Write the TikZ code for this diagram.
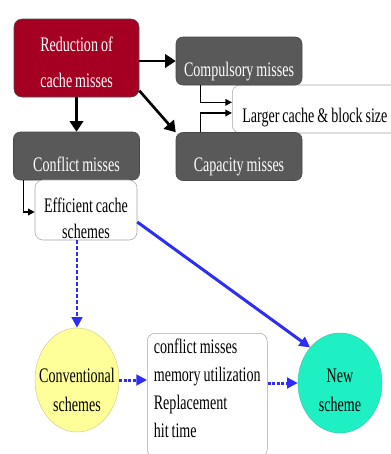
\documentclass[tikz,border=0pt]{standalone}
\usepackage{fontspec}
\setmainfont{Liberation Serif}[FakeStretch=0.68,WordSpace=0.85]
\usepackage{xcolor}
\usepackage{tikz}
\usetikzlibrary{arrows.meta,positioning,shapes.geometric}
\definecolor{darkred}{RGB}{165,0,33}
\definecolor{boxgray}{RGB}{89,89,89}
\definecolor{lineblue}{RGB}{45,45,245}
\definecolor{paleyellow}{RGB}{255,255,153}
\definecolor{aqua}{RGB}{30,240,195}
\newcommand{\padtop}[1]{\rule{0pt}{#1}}
\tikzset{
  redbox/.style={rectangle,rounded corners=6pt,draw=gray!60!black,fill=darkred,text=white,
                 minimum width=93.75pt,minimum height=58.5pt,inner sep=0pt,align=center,
                 font=\fontsize{15.5}{27}\selectfont},
  graybox/.style={rectangle,rounded corners=5pt,draw=boxgray!80!black,fill=boxgray,text=white,
                  minimum width=94.5pt,minimum height=36pt,inner sep=0pt,
                  text height=22.5pt,text depth=0pt,font=\fontsize{15.5}{21}\selectfont},
  notebox/.style={rectangle,rounded corners=6pt,draw=gray!70,fill=white,inner sep=0pt,
                  font=\fontsize{15.5}{#1}\selectfont},
  notebox/.default=21,
  ovalbox/.style={ellipse,fill=#1,draw=#1!65!gray,minimum width=63pt,
                  inner xsep=-14pt,inner ysep=-10pt,align=center,
                  font=\fontsize{15.5}{21.75}\selectfont},
  arr/.style={-{Triangle[length=8pt,width=10pt]},line width=2pt},
  thinarr/.style={-{Triangle[length=5pt,width=5pt]},line width=1pt},
  bluearr/.style={-{Triangle[length=8pt,width=8pt]},line width=#1,color=lineblue},
  bluearr/.default=2.25pt,
}

\begin{document}
\begin{tikzpicture}[x=0.75pt,y=-0.75pt]
    \useasboundingbox (0,0) rectangle (391,454);
    \clip (0,0) rectangle (391,454);

    % 说明框在最底层
    \node[notebox, anchor=west, minimum height=36pt, inner xsep=7.5pt,
          text height=19.5pt, text depth=0pt] (large) at (232,109)
          {\makebox[135pt][l]{Larger cache \& block size}};

    \node[redbox] (red) at (76.5,58) {\padtop{18pt}Reduction of\\cache misses};
    \node[graybox] (comp) at (239,61) {Compulsory misses};
    \node[graybox] (cap) at (239,156.5) {Capacity misses};
    \node[graybox] (conf) at (76.5,156) {Conflict misses};

    \node[notebox=19.5, minimum width=76.5pt, minimum height=45pt, align=center] (eff) at (86,210)
          {\padtop{23pt}Efficient cache\\schemes};

    \node[notebox, anchor=north west, minimum width=90pt, inner xsep=4.5pt, align=left] (list) at (147,333)
          {\padtop{15pt}conflict misses\\memory utilization\\Replacement\\hit time\rule[-15pt]{0pt}{15pt}};

    \node[ovalbox=paleyellow, minimum height=78pt] (conv) at (77,380) {\padtop{26.25pt}Conventional\\schemes};
    \node[ovalbox=aqua, minimum height=75pt] (new) at (340,383) {\padtop{21.75pt}New\\scheme};

    % 连线
    \draw[arr] (red.east |- comp) -- (comp);
    \draw[arr] ([yshift=5pt]red.south east) -- (cap.north west);
    \draw[arr] (red) -- (conf);
    \draw[thinarr] ([xshift=-29pt]comp.south) |- ([yshift=5pt]large.west);
    \draw[thinarr] ([xshift=-29pt]cap.north) |- ([yshift=-3pt]large.west);
    \draw[thinarr] ([xshift=-40pt]conf.south) |- ([yshift=-1.5pt]eff.west);
    \draw[bluearr=1.8pt, dash pattern=on 3pt off 1.5pt] (eff.south -| conv) -- (conv);
    \draw[bluearr] ([yshift=-9pt]eff.east) -- (new.north west);
    \draw[bluearr, dash pattern=on 2.25pt off 1.2pt] (conv) -- (conv -| list.west);
    \draw[bluearr, dash pattern=on 2.25pt off 1.2pt] (list.east |- new) -- (new);
\end{tikzpicture}
\end{document}
